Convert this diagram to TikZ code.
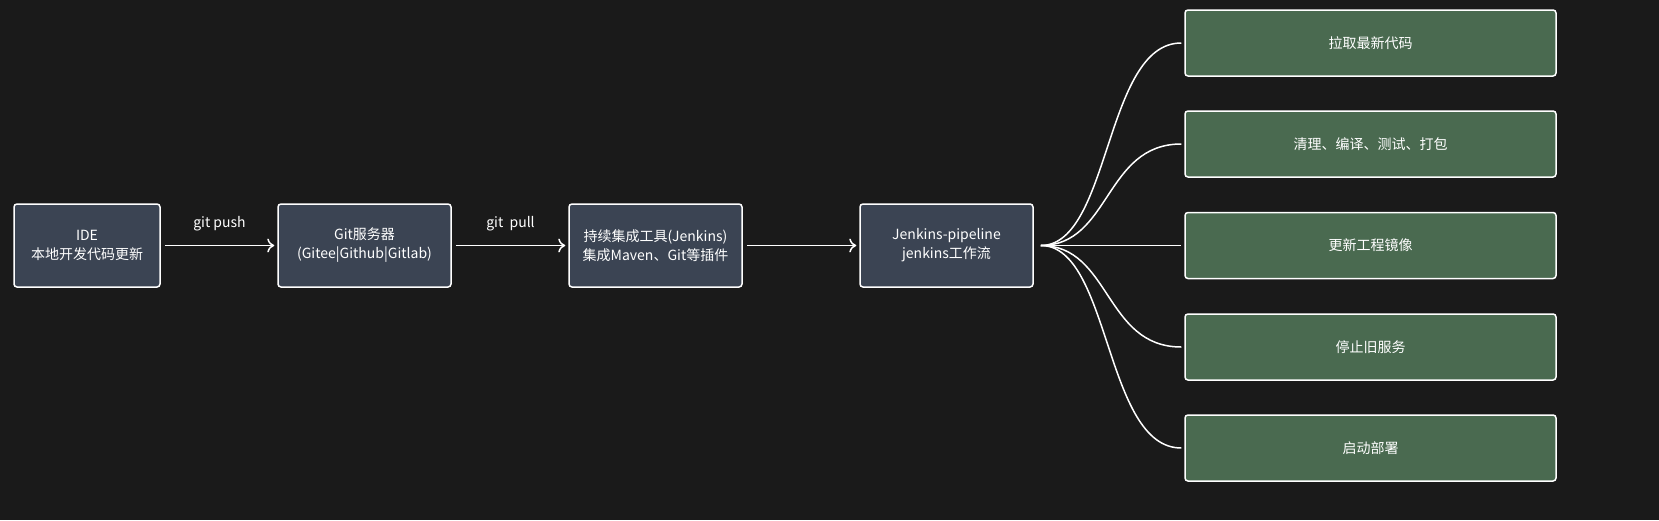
\documentclass[tikz,border=0pt]{standalone}
\usepackage{fontspec}
\setmainfont{Noto Sans CJK SC}
\usetikzlibrary{arrows.meta}
\definecolor{colorBg}{HTML}{1A1A1A}
\definecolor{colorStep}{HTML}{3B4453}
\definecolor{colorTask}{HTML}{4A6A50}
\tikzset{
  stepbox/.style={draw=white, line width=1.5pt, rounded corners=3pt, fill=colorStep, text=white, minimum width=146pt, minimum height=83pt, align=center, font=\fontsize{14}{19}\selectfont},
  taskbox/.style={draw=white, line width=1.5pt, rounded corners=3pt, fill=colorTask, text=white, minimum width=371pt, minimum height=66pt, align=center, font=\fontsize{14}{19}\selectfont},
  flow/.style={draw=white, line width=1.5pt, -{To[length=7pt,width=14pt]}},
  branch/.style={draw=white, line width=1.5pt},
  lbl/.style={text=white, font=\fontsize{14}{17}\selectfont}
}
\begin{document}
\begin{tikzpicture}[x=1pt, y=-1pt]
\fill[colorBg] (0,0) rectangle (1659,520);
\useasboundingbox (0,0) rectangle (1659,520);
% pipeline stages
\node[stepbox] (ide) at (87,245.5) {IDE\\本地开发代码更新};
\node[stepbox, minimum width=173pt] (git) at (364.5,245.5) {Git服务器\\(Gitee|Github|Gitlab)};
\node[stepbox, minimum width=173pt] (ci) at (655.5,245.5) {持续集成工具(Jenkins)\\集成Maven、Git等插件};
\node[stepbox, minimum width=173pt] (jp) at (946.5,245.5) {Jenkins-pipeline\\jenkins工作流};
% jenkins tasks
\node[taskbox] (t1) at (1370.5,43) {拉取最新代码};
\node[taskbox] (t2) at (1370.5,144) {清理、编译、测试、打包};
\node[taskbox] (t3) at (1370.5,245.5) {更新工程镜像};
\node[taskbox] (t4) at (1370.5,347) {停止旧服务};
\node[taskbox] (t5) at (1370.5,448) {启动部署};
\draw[flow] ([xshift=4pt]ide.east) -- node[lbl, above=10pt] {git push} ([xshift=-3pt]git.west);
\draw[flow] ([xshift=4pt]git.east) -- node[lbl, above=10pt] {git\ \ pull} ([xshift=-3pt]ci.west);
\draw[flow] ([xshift=4pt]ci.east) -- ([xshift=-3pt]jp.west);
\coordinate (fan) at ([xshift=7pt]jp.east);
\foreach \t in {t1,t2,t3,t4,t5}
  \draw[branch] (fan) .. controls ([xshift=70pt]fan) and ([xshift=-80pt]\t.west) .. ([xshift=-3pt]\t.west);
\end{tikzpicture}
\end{document}
